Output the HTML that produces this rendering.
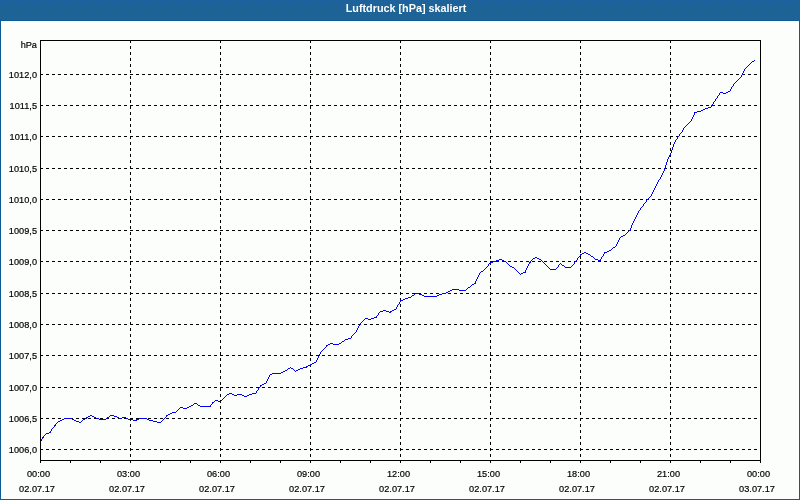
<!DOCTYPE html>
<html><head><meta charset="utf-8"><title>Luftdruck [hPa] skaliert</title>
<style>
html,body{margin:0;padding:0;background:#fcfefc;overflow:hidden}
svg{display:block;position:absolute;left:0;top:0}
text{font-family:"Liberation Sans", sans-serif;font-size:9.9px;fill:#000;stroke:#000;stroke-width:.2px}
.t{font-weight:bold;font-size:10.8px;fill:#fff;stroke:none}
</style></head><body>
<svg width="800" height="500" viewBox="0 0 800 500">
<defs><pattern id="d" width="8" height="9" patternUnits="userSpaceOnUse"><rect width="8" height="9" fill="#1e6396"/><g fill="#2061b2"><rect x="0" y="0" width="1" height="1"/><rect x="2" y="2" width="1" height="1"/><rect x="5" y="2" width="1" height="1"/><rect x="3" y="4" width="1" height="1"/><rect x="0" y="5" width="1" height="1"/><rect x="5" y="5" width="1" height="1"/><rect x="3" y="7" width="1" height="1"/><rect x="7" y="8" width="1" height="1"/></g></pattern><pattern id="e" width="4" height="6" patternUnits="userSpaceOnUse"><rect width="4" height="6" fill="#1e6396"/><g fill="#2061b2"><rect x="2" y="1" width="1" height="1"/><rect x="1" y="3" width="1" height="1"/><rect x="0" y="5" width="1" height="1"/></g></pattern></defs>
<rect width="800" height="500" fill="#0c5a96"/>
<rect x="1" y="21" width="798" height="478" fill="#ffffff"/>
<rect x="2" y="22" width="796" height="476" fill="#fcfefc"/>
<rect x="0" y="0" width="800" height="9" fill="url(#d)"/>
<rect x="0" y="9" width="800" height="11" fill="url(#e)"/>
<text class="t" x="406" y="12" text-anchor="middle">Luftdruck [hPa] skaliert</text>
<g shape-rendering="crispEdges" stroke="#000" stroke-width="1" fill="none">
<line x1="40" y1="449.5" x2="760" y2="449.5" stroke-dasharray="3 3"/>
<line x1="40" y1="418.5" x2="760" y2="418.5" stroke-dasharray="3 3"/>
<line x1="40" y1="387.5" x2="760" y2="387.5" stroke-dasharray="3 3"/>
<line x1="40" y1="355.5" x2="760" y2="355.5" stroke-dasharray="3 3"/>
<line x1="40" y1="324.5" x2="760" y2="324.5" stroke-dasharray="3 3"/>
<line x1="40" y1="293.5" x2="760" y2="293.5" stroke-dasharray="3 3"/>
<line x1="40" y1="261.5" x2="760" y2="261.5" stroke-dasharray="3 3"/>
<line x1="40" y1="230.5" x2="760" y2="230.5" stroke-dasharray="3 3"/>
<line x1="40" y1="199.5" x2="760" y2="199.5" stroke-dasharray="3 3"/>
<line x1="40" y1="168.5" x2="760" y2="168.5" stroke-dasharray="3 3"/>
<line x1="40" y1="136.5" x2="760" y2="136.5" stroke-dasharray="3 3"/>
<line x1="40" y1="105.5" x2="760" y2="105.5" stroke-dasharray="3 3"/>
<line x1="40" y1="74.5" x2="760" y2="74.5" stroke-dasharray="3 3"/>
<line x1="130.5" y1="40" x2="130.5" y2="460" stroke-dasharray="3 3"/>
<line x1="220.5" y1="40" x2="220.5" y2="460" stroke-dasharray="3 3"/>
<line x1="310.5" y1="40" x2="310.5" y2="460" stroke-dasharray="3 3"/>
<line x1="400.5" y1="40" x2="400.5" y2="460" stroke-dasharray="3 3"/>
<line x1="490.5" y1="40" x2="490.5" y2="460" stroke-dasharray="3 3"/>
<line x1="580.5" y1="40" x2="580.5" y2="460" stroke-dasharray="3 3"/>
<line x1="670.5" y1="40" x2="670.5" y2="460" stroke-dasharray="3 3"/>
<rect x="40.5" y="40.5" width="720" height="420"/>
<line x1="40.5" y1="461" x2="40.5" y2="463"/>
<line x1="70.5" y1="461" x2="70.5" y2="463"/>
<line x1="100.5" y1="461" x2="100.5" y2="463"/>
<line x1="130.5" y1="461" x2="130.5" y2="463"/>
<line x1="160.5" y1="461" x2="160.5" y2="463"/>
<line x1="190.5" y1="461" x2="190.5" y2="463"/>
<line x1="220.5" y1="461" x2="220.5" y2="463"/>
<line x1="250.5" y1="461" x2="250.5" y2="463"/>
<line x1="280.5" y1="461" x2="280.5" y2="463"/>
<line x1="310.5" y1="461" x2="310.5" y2="463"/>
<line x1="340.5" y1="461" x2="340.5" y2="463"/>
<line x1="370.5" y1="461" x2="370.5" y2="463"/>
<line x1="400.5" y1="461" x2="400.5" y2="463"/>
<line x1="430.5" y1="461" x2="430.5" y2="463"/>
<line x1="460.5" y1="461" x2="460.5" y2="463"/>
<line x1="490.5" y1="461" x2="490.5" y2="463"/>
<line x1="520.5" y1="461" x2="520.5" y2="463"/>
<line x1="550.5" y1="461" x2="550.5" y2="463"/>
<line x1="580.5" y1="461" x2="580.5" y2="463"/>
<line x1="610.5" y1="461" x2="610.5" y2="463"/>
<line x1="640.5" y1="461" x2="640.5" y2="463"/>
<line x1="670.5" y1="461" x2="670.5" y2="463"/>
<line x1="700.5" y1="461" x2="700.5" y2="463"/>
<line x1="730.5" y1="461" x2="730.5" y2="463"/>
<line x1="760.5" y1="461" x2="760.5" y2="463"/>
</g>
<path shape-rendering="crispEdges" fill="none" stroke="#0000ff" stroke-width="1" d="M754 60.5h1M752 61.5h2M751 62.5h1M750 63.5h1M749 64.5h1M748 65.5h1M747 66.5h1M746 67.5h1M745 68.5h1M744 69.5h1M744 70.5h1M743 71.5h1M743 72.5h1M742 73.5h1M742 74.5h1M741 75.5h1M741 76.5h1M740 77.5h1M739 78.5h1M738 79.5h1M737 80.5h1M736 81.5h1M735 82.5h1M734 83.5h1M733 84.5h1M733 85.5h1M732 86.5h1M731 87.5h1M731 88.5h1M730 89.5h1M730 90.5h1M728 91.5h2M720 92.5h3M726 92.5h2M719 93.5h1M723 93.5h3M719 94.5h1M718 95.5h1M717 96.5h1M717 97.5h1M716 98.5h1M715 99.5h1M715 100.5h1M714 101.5h1M713 102.5h1M713 103.5h1M712 104.5h1M711 105.5h1M711 106.5h1M708 107.5h3M705 108.5h3M703 109.5h2M701 110.5h2M697 111.5h4M694 112.5h3M694 113.5h1M694 114.5h1M693 115.5h1M693 116.5h1M692 117.5h1M692 118.5h1M691 119.5h1M691 120.5h1M690 121.5h1M689 122.5h1M688 123.5h1M687 124.5h1M686 125.5h1M685 126.5h1M684 127.5h1M683 128.5h1M683 129.5h1M682 130.5h1M682 131.5h1M681 132.5h1M680 133.5h1M679 134.5h1M679 135.5h1M678 136.5h1M677 137.5h1M677 138.5h1M676 139.5h1M675 140.5h1M675 141.5h1M674 142.5h1M674 143.5h1M673 144.5h1M673 145.5h1M673 146.5h1M672 147.5h1M672 148.5h1M672 149.5h1M671 150.5h1M671 151.5h1M671 152.5h1M670 153.5h1M670 154.5h1M669 155.5h1M669 156.5h1M668 157.5h1M668 158.5h1M667 159.5h1M667 160.5h1M667 161.5h1M666 162.5h1M666 163.5h1M666 164.5h1M665 165.5h1M665 166.5h1M665 167.5h1M664 168.5h1M664 169.5h1M664 170.5h1M663 171.5h1M663 172.5h1M662 173.5h1M662 174.5h1M661 175.5h1M661 176.5h1M660 177.5h1M660 178.5h1M659 179.5h1M658 180.5h1M658 181.5h1M657 182.5h1M657 183.5h1M656 184.5h1M656 185.5h1M655 186.5h1M655 187.5h1M654 188.5h1M654 189.5h1M653 190.5h1M653 191.5h1M652 192.5h1M652 193.5h1M651 194.5h1M651 195.5h1M650 196.5h1M649 197.5h1M648 198.5h1M647 199.5h1M646 200.5h1M646 201.5h1M645 202.5h1M644 203.5h1M643 204.5h1M643 205.5h1M642 206.5h1M641 207.5h1M640 208.5h1M640 209.5h1M639 210.5h1M638 211.5h1M638 212.5h1M637 213.5h1M637 214.5h1M636 215.5h1M636 216.5h1M635 217.5h1M635 218.5h1M634 219.5h1M634 220.5h1M633 221.5h1M633 222.5h1M632 223.5h1M632 224.5h1M631 225.5h1M631 226.5h1M631 227.5h1M630 228.5h1M630 229.5h1M629 230.5h2M628 231.5h1M627 232.5h1M626 233.5h1M625 234.5h1M623 235.5h2M621 236.5h2M620 237.5h1M619 238.5h1M619 239.5h1M618 240.5h1M618 241.5h1M617 242.5h1M617 243.5h1M616 244.5h1M616 245.5h1M615 246.5h1M613 247.5h2M612 248.5h1M611 249.5h1M609 250.5h2M607 251.5h2M584 252.5h2M604 252.5h3M582 253.5h2M586 253.5h2M604 253.5h1M580 254.5h2M588 254.5h2M603 254.5h1M580 255.5h1M590 255.5h1M603 255.5h1M579 256.5h1M591 256.5h2M602 256.5h1M535 257.5h2M578 257.5h1M593 257.5h1M601 257.5h1M533 258.5h2M537 258.5h2M577 258.5h1M594 258.5h1M601 258.5h1M499 259.5h3M532 259.5h1M539 259.5h2M577 259.5h1M595 259.5h3M600 259.5h1M496 260.5h3M502 260.5h2M531 260.5h1M541 260.5h1M576 260.5h1M598 260.5h3M493 261.5h3M504 261.5h2M530 261.5h1M542 261.5h1M575 261.5h1M490 262.5h3M506 262.5h1M529 262.5h2M543 262.5h1M574 262.5h1M489 263.5h1M507 263.5h1M529 263.5h1M544 263.5h1M560 263.5h1M574 263.5h1M488 264.5h1M508 264.5h1M528 264.5h1M545 264.5h1M559 264.5h1M561 264.5h1M573 264.5h1M488 265.5h1M509 265.5h1M528 265.5h1M546 265.5h1M558 265.5h1M562 265.5h2M572 265.5h1M487 266.5h1M510 266.5h2M527 266.5h1M547 266.5h1M558 266.5h1M564 266.5h1M571 266.5h1M486 267.5h1M512 267.5h2M527 267.5h1M548 267.5h1M557 267.5h1M565 267.5h6M485 268.5h1M514 268.5h1M526 268.5h1M549 268.5h1M556 268.5h1M484 269.5h1M515 269.5h1M526 269.5h1M550 269.5h6M483 270.5h1M516 270.5h1M525 270.5h1M481 271.5h2M517 271.5h1M525 271.5h1M480 272.5h1M518 272.5h1M523 272.5h3M479 273.5h1M519 273.5h1M521 273.5h2M479 274.5h1M520 274.5h1M478 275.5h1M478 276.5h1M477 277.5h1M477 278.5h1M476 279.5h1M476 280.5h1M475 281.5h1M475 282.5h1M474 283.5h2M472 284.5h2M471 285.5h1M470 286.5h1M468 287.5h2M467 288.5h1M452 289.5h7M466 289.5h1M450 290.5h2M459 290.5h7M448 291.5h2M446 292.5h2M415 293.5h4M442 293.5h4M414 294.5h1M419 294.5h3M439 294.5h3M412 295.5h2M422 295.5h2M437 295.5h2M411 296.5h1M424 296.5h13M408 297.5h3M405 298.5h3M403 299.5h2M400 300.5h3M400 301.5h1M399 302.5h1M399 303.5h1M398 304.5h1M397 305.5h1M397 306.5h1M396 307.5h1M396 308.5h1M394 309.5h2M383 310.5h3M392 310.5h2M380 311.5h3M386 311.5h3M390 311.5h2M379 312.5h1M389 312.5h2M378 313.5h1M378 314.5h1M377 315.5h1M376 316.5h1M374 317.5h3M365 318.5h3M371 318.5h3M364 319.5h1M368 319.5h3M363 320.5h1M362 321.5h1M361 322.5h1M360 323.5h1M360 324.5h1M359 325.5h1M358 326.5h1M358 327.5h1M357 328.5h1M357 329.5h1M356 330.5h1M356 331.5h1M355 332.5h1M354 333.5h1M353 334.5h1M352 335.5h1M351 336.5h1M351 337.5h1M348 338.5h3M345 339.5h3M344 340.5h1M342 341.5h2M341 342.5h1M330 343.5h3M339 343.5h2M328 344.5h2M333 344.5h6M326 345.5h2M326 346.5h1M325 347.5h1M324 348.5h1M323 349.5h1M322 350.5h1M321 351.5h1M320 352.5h1M320 353.5h1M319 354.5h1M319 355.5h1M318 356.5h1M318 357.5h1M317 358.5h1M317 359.5h1M316 360.5h1M316 361.5h1M314 362.5h2M312 363.5h2M310 364.5h2M308 365.5h3M306 366.5h2M290 367.5h1M303 367.5h4M288 368.5h2M291 368.5h2M300 368.5h3M287 369.5h1M293 369.5h1M298 369.5h2M285 370.5h2M294 370.5h1M296 370.5h2M283 371.5h2M295 371.5h1M281 372.5h2M272 373.5h9M270 374.5h2M269 375.5h1M269 376.5h1M268 377.5h1M268 378.5h1M267 379.5h1M267 380.5h1M266 381.5h1M266 382.5h1M264 383.5h2M262 384.5h2M260 385.5h2M260 386.5h1M259 387.5h1M258 388.5h1M258 389.5h1M257 390.5h1M256 391.5h1M256 392.5h1M229 393.5h3M252 393.5h4M227 394.5h2M232 394.5h2M237 394.5h5M249 394.5h3M226 395.5h1M234 395.5h3M242 395.5h2M247 395.5h2M225 396.5h1M244 396.5h3M224 397.5h1M223 398.5h1M222 399.5h1M215 400.5h3M221 400.5h1M214 401.5h1M218 401.5h3M212 402.5h2M194 403.5h3M212 403.5h1M193 404.5h1M197 404.5h1M211 404.5h1M191 405.5h2M198 405.5h2M210 405.5h1M189 406.5h2M200 406.5h11M180 407.5h3M187 407.5h2M179 408.5h1M183 408.5h4M178 409.5h1M177 410.5h1M176 411.5h1M172 412.5h4M170 413.5h2M168 414.5h2M90 415.5h2M110 415.5h4M166 415.5h2M88 416.5h2M92 416.5h2M109 416.5h1M114 416.5h3M166 416.5h1M86 417.5h2M94 417.5h2M107 417.5h2M117 417.5h2M122 417.5h4M165 417.5h1M64 418.5h8M85 418.5h2M96 418.5h3M106 418.5h1M119 418.5h3M126 418.5h2M139 418.5h8M164 418.5h1M62 419.5h2M72 419.5h2M83 419.5h2M99 419.5h7M128 419.5h5M136 419.5h3M147 419.5h2M163 419.5h1M60 420.5h2M74 420.5h2M82 420.5h1M133 420.5h4M149 420.5h4M162 420.5h1M58 421.5h2M76 421.5h3M81 421.5h1M153 421.5h4M161 421.5h1M57 422.5h1M79 422.5h2M157 422.5h4M56 423.5h1M55 424.5h1M54 425.5h2M54 426.5h1M53 427.5h1M52 428.5h1M51 429.5h1M51 430.5h1M50 431.5h1M49 432.5h2M46 433.5h3M45 434.5h1M44 435.5h1M43 436.5h1M42 437.5h2M42 438.5h1M41 439.5h1M41 440.5h1"/>
<text transform="translate(37 48) scale(0.93 1)" text-anchor="end">hPa</text>
<text transform="translate(37 453) scale(0.93 1)" text-anchor="end">1006,0</text>
<text transform="translate(37 422) scale(0.93 1)" text-anchor="end">1006,5</text>
<text transform="translate(37 391) scale(0.93 1)" text-anchor="end">1007,0</text>
<text transform="translate(37 359) scale(0.93 1)" text-anchor="end">1007,5</text>
<text transform="translate(37 328) scale(0.93 1)" text-anchor="end">1008,0</text>
<text transform="translate(37 297) scale(0.93 1)" text-anchor="end">1008,5</text>
<text transform="translate(37 265) scale(0.93 1)" text-anchor="end">1009,0</text>
<text transform="translate(37 234) scale(0.93 1)" text-anchor="end">1009,5</text>
<text transform="translate(37 203) scale(0.93 1)" text-anchor="end">1010,0</text>
<text transform="translate(37 172) scale(0.93 1)" text-anchor="end">1010,5</text>
<text transform="translate(37 140) scale(0.93 1)" text-anchor="end">1011,0</text>
<text transform="translate(37 109) scale(0.93 1)" text-anchor="end">1011,5</text>
<text transform="translate(37 78) scale(0.93 1)" text-anchor="end">1012,0</text>
<text transform="translate(38.5 477) scale(0.93 1)" text-anchor="middle">00:00</text>
<text transform="translate(37 492) scale(0.93 1)" text-anchor="middle">02.07.17</text>
<text transform="translate(128.5 477) scale(0.93 1)" text-anchor="middle">03:00</text>
<text transform="translate(127 492) scale(0.93 1)" text-anchor="middle">02.07.17</text>
<text transform="translate(218.5 477) scale(0.93 1)" text-anchor="middle">06:00</text>
<text transform="translate(217 492) scale(0.93 1)" text-anchor="middle">02.07.17</text>
<text transform="translate(308.5 477) scale(0.93 1)" text-anchor="middle">09:00</text>
<text transform="translate(307 492) scale(0.93 1)" text-anchor="middle">02.07.17</text>
<text transform="translate(398.5 477) scale(0.93 1)" text-anchor="middle">12:00</text>
<text transform="translate(397 492) scale(0.93 1)" text-anchor="middle">02.07.17</text>
<text transform="translate(488.5 477) scale(0.93 1)" text-anchor="middle">15:00</text>
<text transform="translate(487 492) scale(0.93 1)" text-anchor="middle">02.07.17</text>
<text transform="translate(578.5 477) scale(0.93 1)" text-anchor="middle">18:00</text>
<text transform="translate(577 492) scale(0.93 1)" text-anchor="middle">02.07.17</text>
<text transform="translate(668.5 477) scale(0.93 1)" text-anchor="middle">21:00</text>
<text transform="translate(667 492) scale(0.93 1)" text-anchor="middle">02.07.17</text>
<text transform="translate(758.5 477) scale(0.93 1)" text-anchor="middle">00:00</text>
<text transform="translate(757 492) scale(0.93 1)" text-anchor="middle">03.07.17</text>
</svg></body></html>
